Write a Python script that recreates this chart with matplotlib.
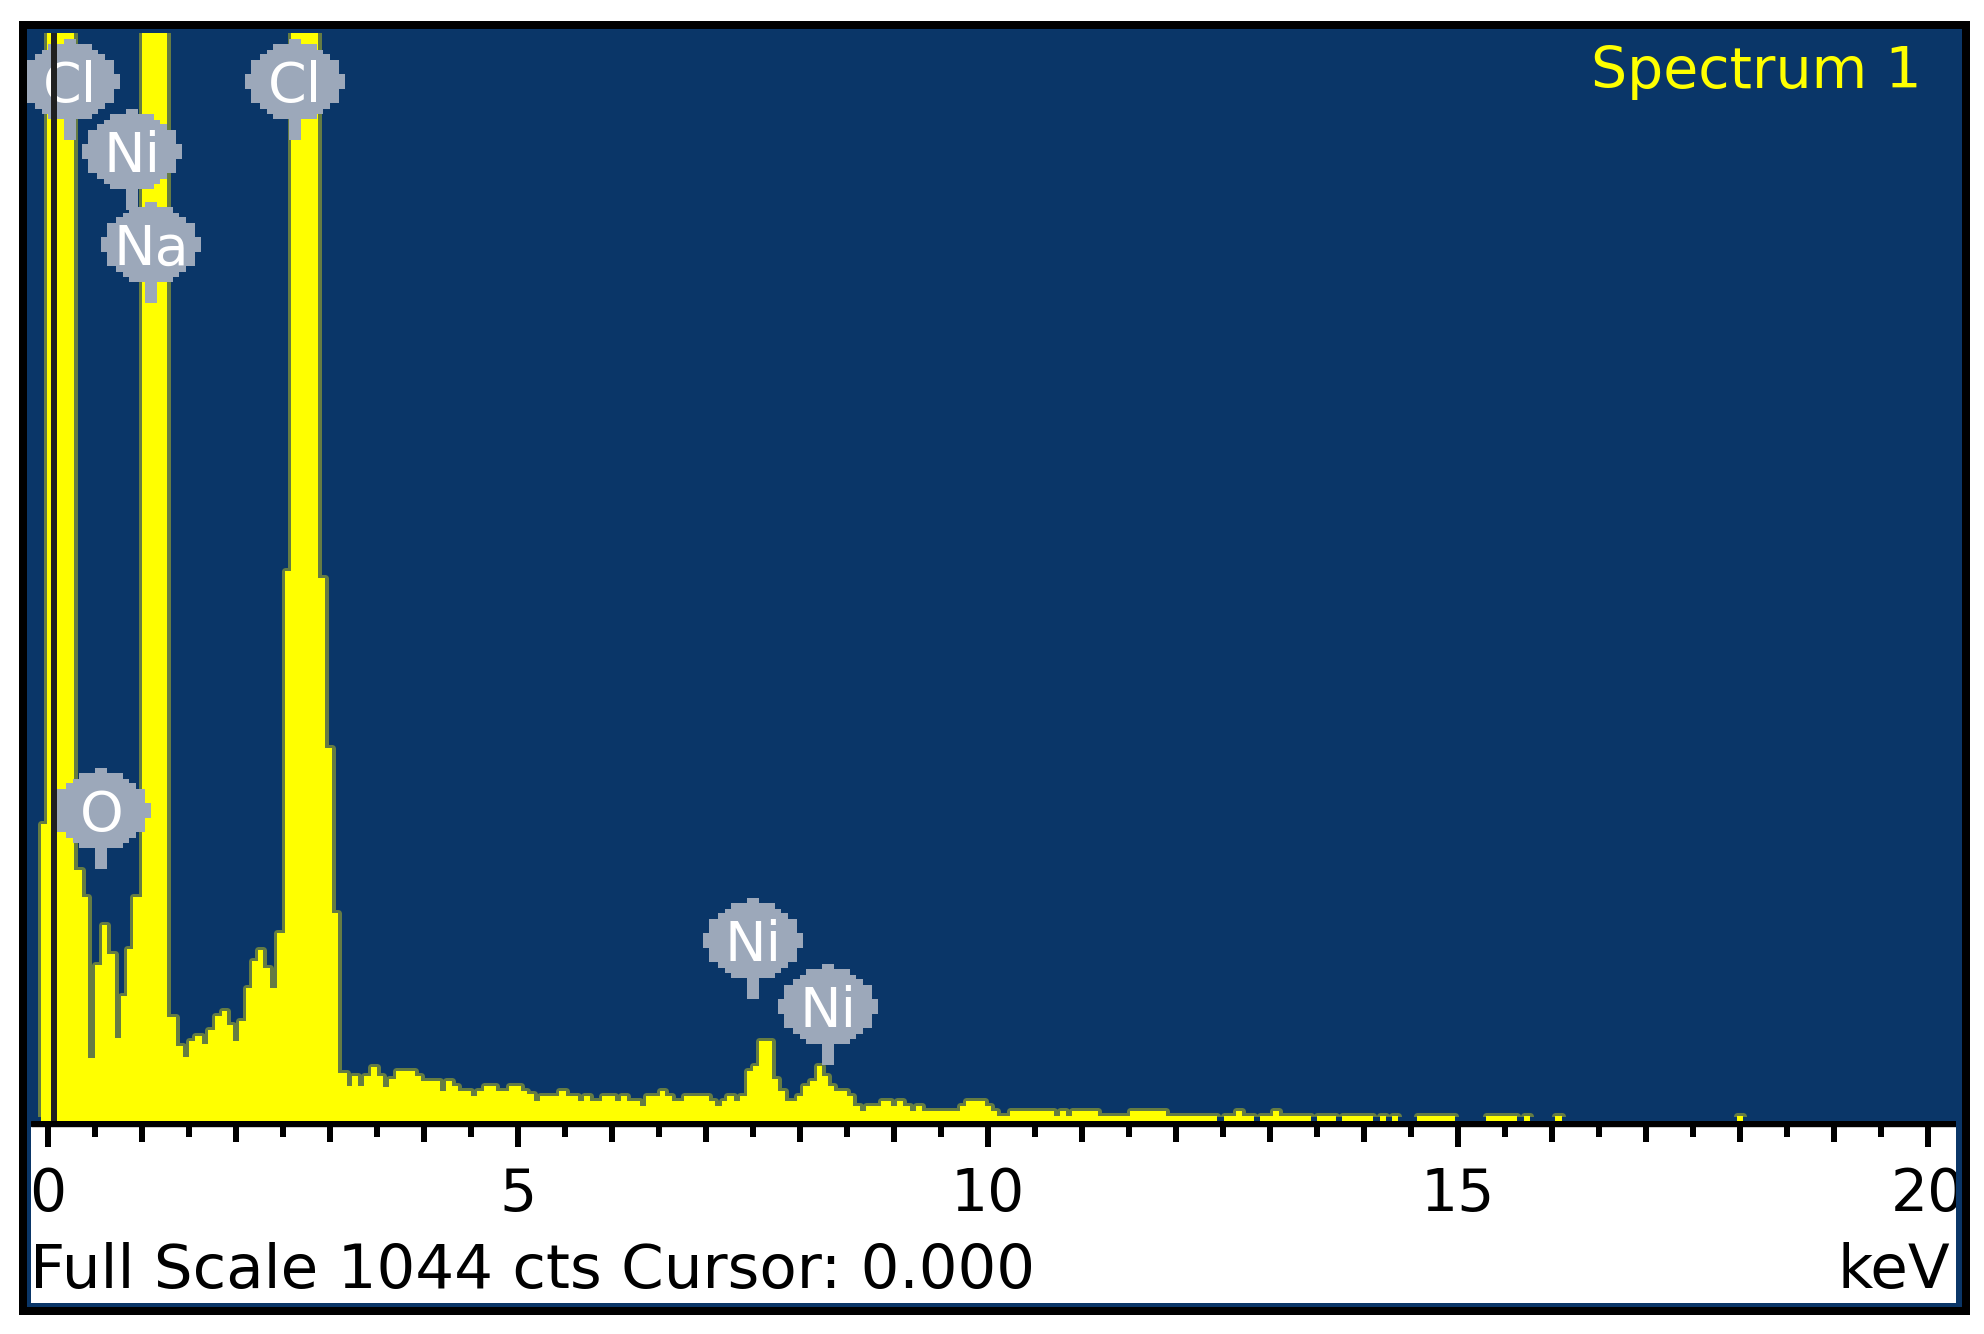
import numpy as np
import matplotlib
matplotlib.use("Agg")
import matplotlib.pyplot as plt
import matplotlib.transforms as mtransforms
from matplotlib.patches import Rectangle, Polygon

# ---- spectrum data (step segments: start energy in keV, counts) ----
FULL_SCALE = 1044
TALL = 1500  # peaks that run off the top of the full scale
seg_start_keV = [
    -0.22, -0.07, -0.01, 0.285, 0.365, 0.433, 0.504, 0.574, 0.635, 0.716,
    0.776, 0.84, 0.91, 1.00, 1.27, 1.37, 1.443, 1.504, 1.567, 1.638,
    1.709, 1.78, 1.851, 1.904, 1.975, 2.039, 2.11, 2.17, 2.241, 2.294,
    2.365, 2.436, 2.52, 2.59, 2.88, 2.95, 3.02, 3.09, 3.18, 3.24,
    3.305, 3.37, 3.44, 3.50, 3.57, 3.635, 3.71, 3.91, 3.97, 4.17,
    4.24, 4.30, 4.37, 4.50, 4.57, 4.64, 4.77, 4.91, 5.04, 5.10,
    5.17, 5.24, 5.44, 5.51, 5.64, 5.71, 5.77, 5.90, 6.04, 6.10,
    6.16, 6.30, 6.37, 6.51, 6.57, 6.64, 6.77, 7.04, 7.10, 7.17,
    7.23, 7.30, 7.37, 7.44, 7.50, 7.57, 7.70, 7.77, 7.84, 7.97,
    8.04, 8.11, 8.18, 8.24, 8.30, 8.37, 8.50, 8.57, 8.64, 8.71,
    8.86, 8.97, 9.04, 9.10, 9.17, 9.24, 9.30, 9.71, 9.77, 9.97,
    10.03, 10.10, 10.24, 10.71, 10.77, 10.83, 10.90, 11.17, 11.51, 11.90,
    12.44, 12.51, 12.64, 12.70, 12.83, 12.90, 13.04, 13.10, 13.44, 13.50,
    13.70, 13.77, 14.10, 14.17, 14.24, 14.30, 14.36, 14.57, 14.97, 15.30,
    15.63, 15.71, 15.77, 16.04, 16.11, 17.97, 18.03,
]
seg_counts = [
    0, 285, TALL, 241, 215, 60, 150, 188, 160, 80,
    120, 165, 215, TALL, 100, 72, 61, 77, 82, 74,
    87, 101, 106, 92, 77, 96, 128, 154, 164, 147,
    128, 180, 528, TALL, 521, 358, 200, 46, 34, 43,
    34, 43, 52, 43, 33, 40, 48, 43, 38, 29,
    38, 34, 29, 24, 29, 34, 29, 34, 29, 26,
    19, 24, 29, 24, 19, 24, 19, 24, 19, 24,
    19, 14, 24, 29, 24, 19, 24, 19, 14, 19,
    24, 19, 24, 48, 53, 77, 40, 29, 19, 24,
    34, 38, 53, 43, 34, 29, 24, 14, 10, 14,
    19, 14, 19, 14, 10, 14, 10, 14, 19, 14,
    10, 5, 10, 5, 10, 5, 10, 5, 10, 5,
    0, 5, 10, 5, 0, 5, 10, 5, 0, 5,
    0, 5, 0, 5, 0, 5, 0, 5, 0, 5,
    0, 5, 0, 5, 0, 5, 0,
]
END_KEV = 20.4
CURSOR_KEV = 0.07

# element markers: symbol, energy of the stem, counts at the stem tip
marker_el = ["Cl", "Ni", "Na", "Cl", "O", "Ni", "Ni"]
marker_keV = [0.24, 0.90, 1.10, 2.63, 0.57, 7.50, 8.30]
marker_cts = [941, 874, 785, 941, 242, 117, 54]

tick_label_keV = [0, 5, 10, 15, 20]

# ---- layout (pixels of the 1984x1334 picture) ----
W, H, DPI = 1984, 1334, 100
BLUE = "#0a3668"
YELLOW = "#ffff00"
OLIVE = "#7d8f3a"
GRAY = "#9ca8ba"
PX0, PX_PER_KEV = 47.7, 94.0


def rect(x0, y0, x1, y1):
    return [x0 / W, 1 - y1 / H, (x1 - x0) / W, (y1 - y0) / H]


def kev(px):
    return (px - PX0) / PX_PER_KEV


fig = plt.figure(figsize=(W / DPI, H / DPI), dpi=DPI)
fig.patch.set_facecolor("white")
for box, col in [((19, 21, 1970, 1315), "black"), ((27, 29, 1962, 1307), BLUE)]:
    r = rect(*box)
    fig.add_artist(Rectangle((r[0], r[1]), r[2], r[3], transform=fig.transFigure,
                             facecolor=col, edgecolor="none", zorder=0))

# spectrum area
ax = fig.add_axes(rect(27, 33, 1962, 1121))
ax.set_facecolor(BLUE)
ax.set_xlim(kev(27), kev(1962))
ax.set_ylim(0, FULL_SCALE)
ax.set_xticks([])
ax.set_yticks([])
for s in ax.spines.values():
    s.set_visible(False)

x = np.append(seg_start_keV, END_KEV)
y = np.append(seg_counts, seg_counts[-1])
# soft olive fringe like the blurred screen capture, then the yellow fill
fringe, = ax.step(x, y, where="post", color=OLIVE, lw=7 * 72 / DPI, alpha=0.8, zorder=1)
keep = Rectangle((kev(27), 4), kev(1962) - kev(27), FULL_SCALE - 4,
                 transform=ax.transData)
fringe.set_clip_path(keep)
ax.fill_between(x, 0, y, step="post", color=YELLOW, linewidth=0, zorder=2)

# pixel-style marker: stair-step round label with a stem, offsets in px
rows = [(37, 42, 6), (31, 37, 22), (27, 31, 28), (21, 27, 35), (7, 21, 44),
        (-8, 7, 50), (-22, -8, 44), (-28, -22, 35), (-33, -28, 28),
        (-38, -33, 22), (-59, -38, 6)]
right = []
for lo, hi, hw in rows:
    right += [(hw, hi + 59), (hw, lo + 59)]
left = [(-px, py) for px, py in right[::-1]]
shape = np.array(right + left) / DPI

for el, xk, yc in zip(marker_el, marker_keV, marker_cts):
    trans = fig.dpi_scale_trans + mtransforms.ScaledTranslation(xk, yc, ax.transData)
    ax.add_patch(Polygon(shape, closed=True, transform=trans, facecolor=GRAY,
                         edgecolor="none", zorder=3))
    ax.annotate(el, (xk, yc), xytext=(0, 38), textcoords="offset pixels",
                ha="center", va="baseline", color="white", fontsize=40,
                zorder=4, annotation_clip=False)

ax.axvline(CURSOR_KEV, color="#202020", lw=6 * 72 / DPI, zorder=5)

fig.text(1922 / W, 1 - 88 / H, "Spectrum 1", color=YELLOW, fontsize=41,
         ha="right", va="baseline")

# white scale panel
pan = fig.add_axes(rect(31, 1121, 1956, 1303))
pan.set_facecolor("white")
pan.set_xlim(kev(31), kev(1956))
pan.set_ylim(182, 0)
pan.set_xticks([])
pan.set_yticks([])
for s in pan.spines.values():
    s.set_visible(False)

pan.axhspan(0, 5, color="black", zorder=2)
ticks = np.arange(0, 20.01, 0.5)
lengths = np.where(ticks % 5 == 0, 26, np.where(ticks % 1 == 0, 21, 16))
pan.vlines(ticks, 0, lengths, colors="black", linewidth=6 * 72 / DPI,
           capstyle="butt", zorder=2)
for v in tick_label_keV:
    pan.text(v, 90, str(v), ha="center", va="baseline", fontsize=42, clip_on=True)

pan.text(kev(30), 167, f"Full Scale {FULL_SCALE} cts Cursor: 0.000", ha="left",
         va="baseline", fontsize=44)
pan.text(kev(1950), 167, "keV", ha="right", va="baseline", fontsize=44)

fig.savefig("out.png", dpi=DPI)
plt.close(fig)
